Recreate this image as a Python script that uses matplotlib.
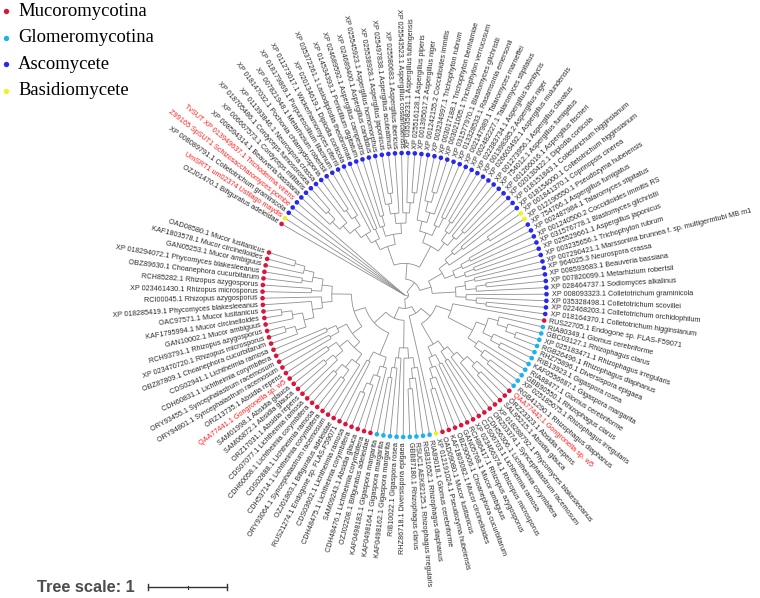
import numpy as np
import matplotlib

matplotlib.use("Agg")
import matplotlib.pyplot as plt
from matplotlib.collections import LineCollection

# leaf labels in tree order (counter-clockwise from the left gap)
labels = [
    "OAD08580.1 Mucor lusitanicus", "KAF1803578.1 Mucor circinelloides",
    "GAN05253.1 Mucor ambiguus", "XP 018294072.1 Phycomyces blakesleeanus",
    "OBZ89630.1 Choanephora cucurbitarum", "RCH85282.1 Rhizopus azygosporus",
    "XP 023461430.1 Rhizopus microsporus", "RCI00045.1 Rhizopus azygosporus",
    "XP 018285419.1 Phycomyces blakesleeanus", "OAC97571.1 Mucor lusitanicus",
    "KAF1795994.1 Mucor circinelloides", "GAN10002.1 Mucor ambiguus",
    "RCH93791.1 Rhizopus azygosporus", "XP 023470720.1 Rhizopus microsporus",
    "OBZ87809.1 Choanephora cucurbitarum", "CDS02941.1 Lichtheimia ramosa",
    "CDH60831.1 Lichtheimia corymbifera", "ORY93455.1 Syncephalastrum racemosum",
    "ORY94801.1 Syncephalastrum racemosum", "ORZ13735.1 Absidia repens",
    "QAA77441.1 Gongronella sp. w5", "SAM01998.1 Absidia glauca",
    "SAM06872.1 Absidia glauca", "ORZ17031.1 Absidia repens",
    "CDS07077.1 Lichtheimia ramosa", "CDH60058.1 Lichtheimia corymbifera",
    "CDS02888.1 Lichtheimia ramosa", "CDH53714.1 Lichtheimia corymbifera",
    "ORY93064.1 Syncephalastrum racemosum", "OZJ01863.1 Bifiguratus adeleidae",
    "RUS21274.1 Endogone sp. FLAS-F59071", "CDS03602.1 Lichtheimia ramosa",
    "CDH48475.1 Lichtheimia corymbifera", "SAM09243.1 Absidia glauca",
    "CDH48476.1 Lichtheimia corymbifera", "OZJ02208.1 Bifiguratus adeleidae",
    "KAF0498183.1 Gigaspora margarita", "KAF0498164.1 Gigaspora margarita",
    "KAF0498162.1 Gigaspora margarita", "RIB10022.1 Gigaspora rosea",
    "RHZ86718.1 Diversispora epigaea", "GBB87180.1 Rhizophagus clarus",
    "RSUC1 AEK82125.1 Rhizophagus irregularis", "RGB31652.1 Rhizophagus diaphanus",
    "RIA89018.1 Glomus cerebriforme", "XP 012191024.1 Pseudozyma hubeiensis",
    "OAD09080.1 Mucor lusitanicus", "KAF1803082.1 Mucor circinelloides",
    "OBZ90606.1 Choanephora cucurbitarum", "GAN05768.1 Mucor ambiguus",
    "RCH86417.1 Rhizopus azygosporus", "XP 023466374.1 Rhizopus microsporus",
    "CDS06703.1 Lichtheimia ramosa", "CDH56306.1 Lichtheimia corymbifera",
    "ORZ03374.1 Syncephalastrum racemosum", "XP 018288792.1 Phycomyces blakesleeanus",
    "SAL95215.1 Absidia glauca", "ORZ23323.1 Absidia repens",
    "QAA77442.1 Gongronella sp. w5", "RGB41290.1 Rhizophagus diaphanus",
    "XP 025185675.1 Rhizophagus irregularis", "GBB90550.1 Rhizophagus clarus",
    "RIA88477.1 Glomus cerebriforme", "KAF0556687.1 Gigaspora margarita",
    "RIB13923.1 Gigaspora rosea", "RHZ75896.1 Diversispora epigaea",
    "RGB26496.1 Rhizophagus diaphanus", "XP 025183471.1 Rhizophagus irregularis",
    "GBC03127.1 Rhizophagus clarus", "RIA80349.1 Glomus cerebriforme",
    "RUS22705.1 Endogone sp. FLAS-F59071", "XP 018164370.1 Colletotrichum higginsianum",
    "XP 022468203.1 Colletotrichum orchidophilum", "XP 035328498.1 Colletotrichum scovillei",
    "XP 008093323.1 Colletotrichum graminicola", "XP 028464737.1 Sodiomyces alkalinus",
    "XP 007820099.1 Metarhizium robertsii", "XP 008593683.1 Beauveria bassiana",
    "XP 964025.3 Neurospora crassa",
    "XP 007290421.1 Marssonina brunnea f. sp. multigermtubi MB m1",
    "XP 003235656.1 Trichophyton rubrum", "XP 025529661.1 Aspergillus japonicus",
    "XP 031576778.1 Blastomyces gilchristii", "XP 001240500.2 Coccidioides immitis RS",
    "XP 002487984.1 Talaromyces stipitatus", "XP 754766.1 Aspergillus fumigatus",
    "XP 012190550.1 Pseudozyma hubeiensis", "XP 001841370.1 Coprinopsis cinerea",
    "XP 018154000.1 Colletotrichum higginsianum", "XP 018151843.1 Colletotrichum higginsianum",
    "XP 020130422.1 Diplodia corticola", "XP 001266016.1 Aspergillus fischeri",
    "XP 754012.1 Aspergillus fumigatus", "XP 001273956.1 Aspergillus clavatus",
    "XP 026603492.1 Aspergillus mulundensis", "XP 001398385.2 Aspergillus niger",
    "XP 022383734.1 Aspergillus bombycis", "XP 002482227.1 Talaromyces stipitatus",
    "XP 002147989.1 Talaromyces marneffei", "XP 013328533.1 Rasamsonia emersonii",
    "XP 031577970.1 Blastomyces gilchristii", "XP 003021005.1 Trichophyton verrucosum",
    "XP 003017188.1 Trichophyton benhamiae", "XP 003234997.1 Trichophyton rubrum",
    "XP 001242155.2 Coccidioides immitis", "XP 001395017.2 Aspergillus niger",
    "XP 025516128.1 Aspergillus piperis", "XP 035358231.1 Aspergillus tubingensis",
    "XP 025543523.1 Aspergillus costaricaensis", "XP 025580683.1 Aspergillus ibericus",
    "XP 025497838.1 Aspergillus aculeatinus", "XP 025538928.1 Aspergillus japonicus",
    "XP 025545923.1 Aspergillus homomorphus", "XP 024689400.1 Aspergillus candidus",
    "XP 024689592.1 Aspergillus campestris", "XP 014534393.1 Penicillium digitatum",
    "XP 035372261.1 Lasiodiplodia theobromae", "XP 020134619.1 Diplodia corticola",
    "XP 011273017.1 Wickerhamomyces ciferrii", "XP 018179869.1 Purpureocillium lilacinum",
    "XP 007821948.1 Metarhizium robertsii", "XP 018147032.1 Pochonia chlamydosporia",
    "XP 011393846.1 Neurospora crassa", "XP 018705486.1 Cordyceps fumosorosea",
    "XP 006667573.1 Cordyceps militaris", "XP 008594314.1 Beauveria bassiana",
    "TvSUT XP 013949637.1 Trichoderma virens", "Z99165 SpSUT1 Schizosaccharomyces pombe",
    "XP 008089791.1 Colletotrichum graminicola", "UmSRT1 um02374 Ustilago maydis",
    "OZJ01470.1 Bifiguratus adeleidae",
]

# group of each leaf, as runs along the leaf order
group_runs = [
    ("Mucoromycotina", 36), ("Glomeromycotina", 9), ("Basidiomycete", 1),
    ("Mucoromycotina", 13), ("Glomeromycotina", 11), ("Mucoromycotina", 1),
    ("Ascomycete", 15), ("Basidiomycete", 2), ("Ascomycete", 41),
    ("Basidiomycete", 1), ("Mucoromycotina", 1),
]
group_colors = {
    "Mucoromycotina": "#dc143c",
    "Glomeromycotina": "#1cb2f2",
    "Ascomycete": "#2828f0",
    "Basidiomycete": "#f2f01e",
}
red_labels = [20, 58, 126, 127, 129]

# topology (leaf = index into labels), internal branch lengths in tree units
M1a = "((((0,1),2),(3,4)),(5,6))"
M1b = "(7,(8,(((9,10),11),((12,13),14))))"
M1core = f"({M1a},{M1b})"
Lich1 = "((15,16),(17,18))"
Abs1 = "((19,20),((21,22),23))"
Lich2 = "(((24,25),(26,27)),28)"
Bif = "(29,30)"
Lich3 = "(((31,32),33),34)"
MUC1 = f"(({M1core}:0.25,({Lich1},({Abs1},{Lich2}):0.1):0.15):0.15,({Bif},({Lich3},35)):0.3)"
GLOM1 = "((((36,37),38),39),(40,(((41,42),43),44)))"
MUC2 = "(((((46,47),48),49),(50,51)),((52,53),(54,(55,((56,57),58)))))"
GLOM2 = "((((59,60),61),62),(((63,64),65),(((66,67),68),69)))"
MUCGLOM = f"(({MUC1}:0.2,{GLOM1}:0.35):0.15,(45,({MUC2}:0.3,({GLOM2}:0.35,70):0.2):0.15):0.1)"

C1 = "(((71,72),73),74)"
C2 = "(75,(76,77))"
C3 = "(78,79)"
C4 = "((80,(81,82)),(83,(84,85)))"
YB = "(86,87)"
C5 = "((88,89),90)"
A1 = "(((91,92),93),(94,(95,96)))"
T1 = "((97,98),99)"
O1 = "((100,((101,102),103)),104)"
A2 = "(((((105,106),107),108),(109,((110,111),112))),((113,114),115))"
D1 = "(116,117)"
H1 = "((119,(120,121)),(122,((123,124),125)))"
ASCO_R = f"(({C1},({C2},{C3})):0.3,({C4},({YB}:0.6,{C5})):0.2)"
ASCO_T = f"(({A1},({T1},{O1})):0.3,({A2},({D1},(118,{H1}))):0.25)"
ASCO = f"({ASCO_R}:0.15,{ASCO_T}:0.2)"
TREE = f"(({MUCGLOM}:0.12,{ASCO}:0.15):0.05,126,127,128,129,130);"

legend_names = ["Mucoromycotina", "Glomeromycotina", "Ascomycete", "Basidiomycete"]
tree_scale = 1


def parse_newick(s, default_len=0.13):
    pos = 0

    def node():
        nonlocal pos
        if s[pos] == "(":
            pos += 1
            kids = [node()]
            while s[pos] == ",":
                pos += 1
                kids.append(node())
            pos += 1
            n = {"kids": kids, "leaf": None, "len": default_len}
        else:
            j = pos
            while s[pos] not in ",():;":
                pos += 1
            n = {"kids": None, "leaf": int(s[j:pos]), "len": 0.0}
        if s[pos] == ":":
            pos += 1
            j = pos
            while s[pos] not in ",();":
                pos += 1
            n["len"] = float(s[j:pos])
        return n

    root = node()
    root["len"] = 0.0
    return root


# geometry in pixels
cx, cy = 404.5, 295.0
px_unit = 79.0
r_leaf = 142.0
r_label = 147.0
a0, step = 162.6, 2.672

root = parse_newick(TREE)
segs = []


def place(n, r_parent):
    if n["kids"] is None:
        n["ang"] = a0 + n["leaf"] * step
        n["r"] = r_leaf
        return
    n["r"] = min(r_parent + n["len"] * px_unit, r_leaf - 3)
    for k in n["kids"]:
        place(k, n["r"])
    n["ang"] = (n["kids"][0]["ang"] + n["kids"][-1]["ang"]) / 2
    for k in n["kids"]:
        t = np.radians(k["ang"])
        segs.append([(cx + n["r"] * np.cos(t), cy - n["r"] * np.sin(t)),
                     (cx + k["r"] * np.cos(t), cy - k["r"] * np.sin(t))])
    t = np.radians(np.linspace(n["kids"][0]["ang"], n["kids"][-1]["ang"], 60))
    segs.append(np.column_stack([cx + n["r"] * np.cos(t), cy - n["r"] * np.sin(t)]))


place(root, 0.0)

fig = plt.figure(figsize=(7.6, 5.98), dpi=100)
ax = fig.add_axes([0, 0, 1, 1])
ax.set_xlim(0, 760)
ax.set_ylim(598, 0)
ax.axis("off")

ax.add_collection(LineCollection(segs, colors="#8f8f8f", linewidths=0.6, zorder=1))

groups = [g for g, n in group_runs for _ in range(n)]
ang = a0 + np.arange(len(labels)) * step
th = np.radians(ang)
ax.scatter(cx + r_leaf * np.cos(th), cy - r_leaf * np.sin(th), s=11,
           c=[group_colors[g] for g in groups], linewidths=0, zorder=3)

for i, lab in enumerate(labels):
    a = ang[i] % 360
    t = np.radians(a)
    x, y = cx + r_label * np.cos(t), cy - r_label * np.sin(t)
    if 90 < a < 270:
        rot, ha = a - 180, "right"
    else:
        rot, ha = a, "left"
    ax.text(x, y, lab, rotation=rot, rotation_mode="anchor", ha=ha, va="center",
            fontsize=5.25, family=["Liberation Sans", "DejaVu Sans"],
            color="#ff2020" if i in red_labels else "#2a2a2a")

# legend
for k, name in enumerate(legend_names):
    yb = 15.5 + k * 26.6
    ax.scatter([6], [yb - 4.5], s=15, c=group_colors[name], linewidths=0)
    ax.text(18, yb, name, fontsize=13.4, family=["Liberation Serif", "DejaVu Serif"],
            va="baseline", ha="left", color="black")

# tree scale
ax.text(37, 587, f"Tree scale: {tree_scale}", fontsize=11.8, fontweight="bold",
        family=["Liberation Sans", "DejaVu Sans"], color="#4d4d4d", va="center")
x0, x1 = 148, 148 + tree_scale * px_unit
ax.plot([x0, x1], [587, 587], color="#333333", lw=1.0)
ax.plot([x0, x0], [584, 590], color="#333333", lw=1.0)
ax.plot([x1, x1], [584, 590], color="#333333", lw=1.0)
ax.plot([(x0 + x1) / 2] * 2, [585.5, 588.5], color="#333333", lw=0.8)

fig.savefig("out.png", dpi=100)
